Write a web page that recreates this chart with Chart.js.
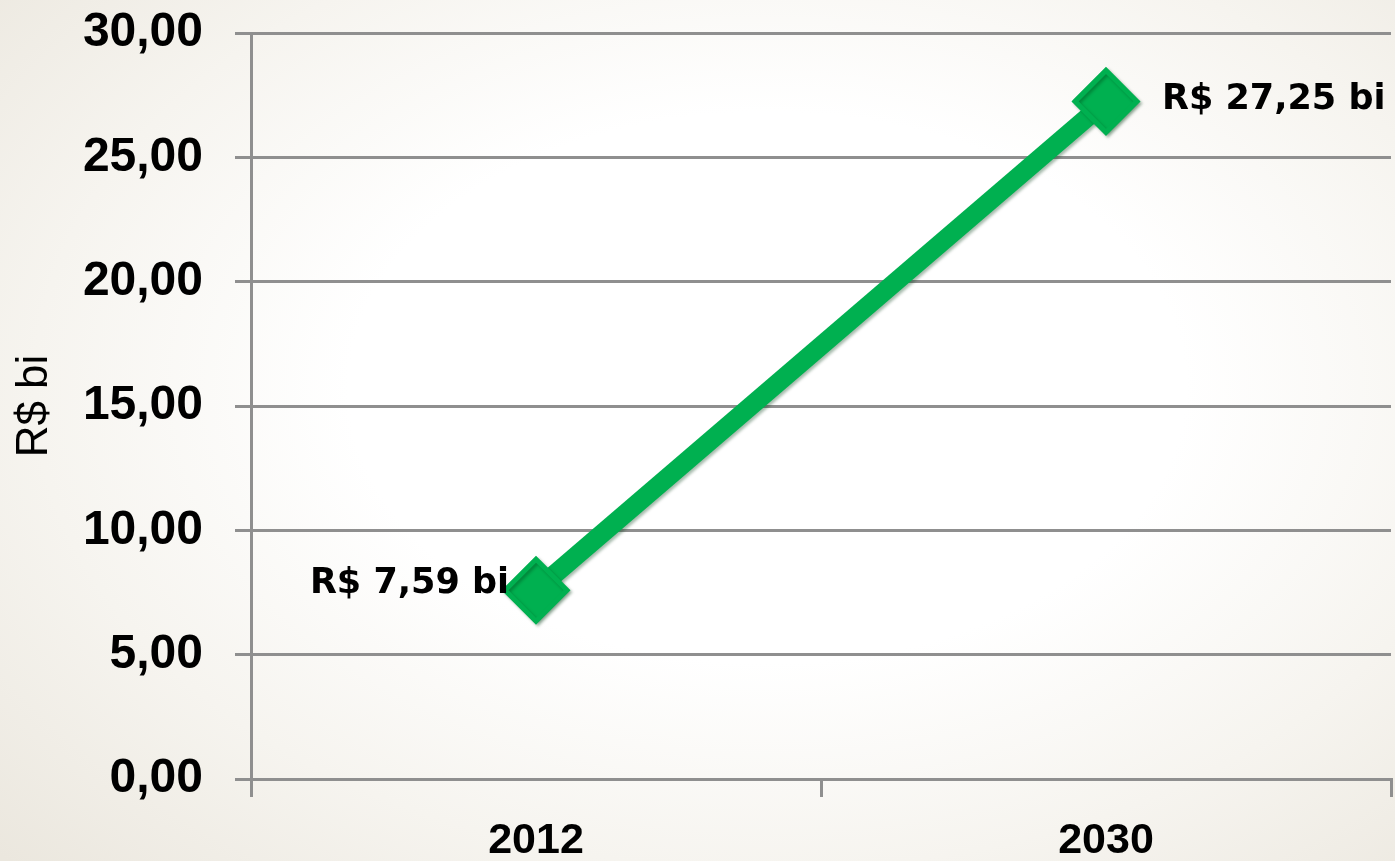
<!DOCTYPE html>
<html lang="pt-BR">
<head>
<meta charset="utf-8">
<title>R$ bi</title>
<script src="https://cdn.jsdelivr.net/npm/chart.js@4/dist/chart.umd.min.js"></script>
<style>
  html, body { margin: 0; padding: 0; }
  body {
    width: 1395px; height: 861px; overflow: hidden;
    background: radial-gradient(ellipse 75% 80% at 55% 45%, #ffffff 40%, #f6f4ef 70%, #ebe7de 100%);
  }
  #wrap { position: relative; width: 1395px; height: 861px; }
</style>
</head>
<body>
<div id="wrap"><canvas id="chart"></canvas></div>
<script>
const years = ['2012', '2030']
const valores = [7.59, 27.25]
const rotulos = ['R$ 7,59 bi', 'R$ 27,25 bi']

const verde = '#00b050'
const cinza = '#8f8f8f'

const fmt = v => v.toFixed(2).replace('.', ',')

// soft drop shadow under the line and markers
const sombra = {
  id: 'sombra',
  beforeDatasetsDraw(chart) {
    const ctx = chart.ctx
    ctx.save()
    ctx.shadowColor = 'rgba(0, 60, 20, 0.35)'
    ctx.shadowBlur = 3
    ctx.shadowOffsetX = 2
    ctx.shadowOffsetY = 2
  },
  afterDatasetsDraw(chart) {
    chart.ctx.restore()
  }
}

// value labels beside each point
const rotuloValor = {
  id: 'rotuloValor',
  afterDatasetsDraw(chart) {
    const ctx = chart.ctx
    const pts = chart.getDatasetMeta(0).data
    ctx.save()
    ctx.font = 'bold 35px "DejaVu Sans", sans-serif'
    ctx.fillStyle = '#000'
    ctx.textBaseline = 'middle'
    pts.forEach((p, i) => {
      if (i === 0) {
        ctx.textAlign = 'right'
        ctx.fillText(rotulos[i], p.x - 27, p.y - 6)
      } else {
        ctx.textAlign = 'left'
        ctx.fillText(rotulos[i], p.x + 56, p.y - 1)
      }
    })
    ctx.restore()
  }
}

new Chart(document.querySelector('#chart'), {
  type: 'line',
  data: {
    labels: years,
    datasets: [{
      data: valores,
      borderColor: verde,
      backgroundColor: verde,
      borderWidth: 19,
      borderJoinStyle: 'round',
      pointStyle: 'rectRot',
      pointRadius: 31,
      pointBorderWidth: 5,
      pointBorderColor: verde,
      pointBackgroundColor: verde,
      clip: false
    }]
  },
  plugins: [sombra, rotuloValor],
  options: {
    responsive: true,
    maintainAspectRatio: false,
    animation: false,
    layout: { autoPadding: false, padding: { top: 33, right: 4, left: 0, bottom: 0 } },
    plugins: {
      legend: { display: false },
      tooltip: { enabled: false }
    },
    scales: {
      x: {
        offset: true,
        grid: {
          offset: true,
          drawOnChartArea: false,
          drawTicks: true,
          tickLength: 18,
          color: cinza,
          lineWidth: 3
        },
        border: { color: cinza, width: 3 },
        ticks: {
          padding: 18,
          color: '#000',
          font: { family: '"Liberation Sans", sans-serif', weight: 'bold', size: 43 }
        },
        afterFit(scale) {
          scale.height = 82
          scale.paddingLeft = 0
          scale.paddingRight = 0
        }
      },
      y: {
        min: 0,
        max: 30,
        ticks: {
          stepSize: 5,
          padding: 32,
          color: '#000',
          font: { family: '"Liberation Sans", sans-serif', weight: 'bold', size: 48 },
          callback: v => fmt(v)
        },
        grid: {
          color: cinza,
          lineWidth: 3,
          tickLength: 16
        },
        border: { color: cinza, width: 3 },
        title: {
          display: true,
          text: 'R$ bi',
          color: '#000',
          padding: { top: 8, bottom: 0 },
          font: { family: '"Liberation Sans", sans-serif', size: 44 }
        },
        afterFit(scale) {
          scale.width = 251
          scale.paddingTop = 0
          scale.paddingBottom = 0
        }
      }
    }
  }
})
</script>
</body>
</html>
